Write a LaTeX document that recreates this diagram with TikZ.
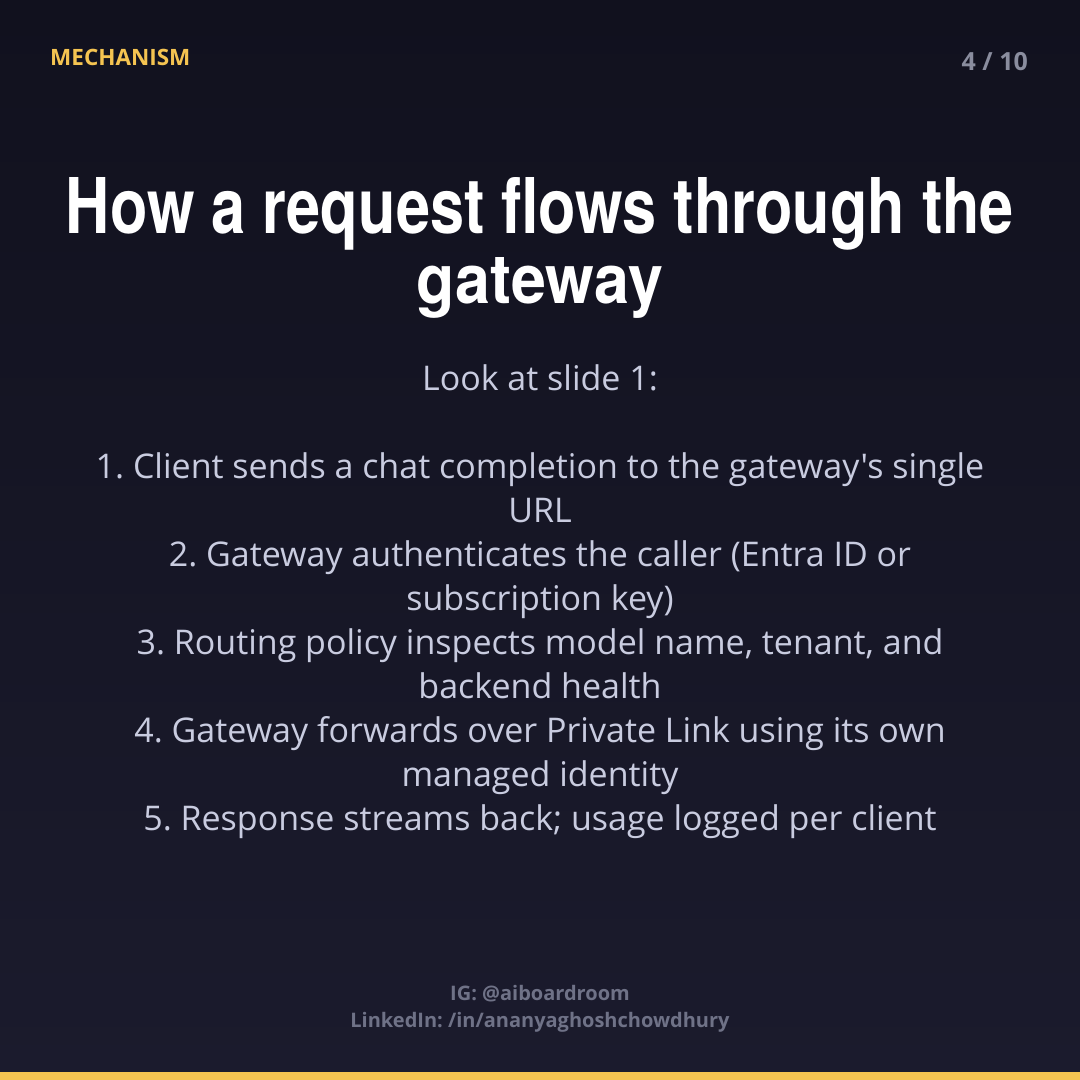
\documentclass[tikz,border=0pt]{standalone}
\usepackage{fontspec}
\setmainfont{Open Sans}[Ligatures=TeXOff]
\newfontfamily\titlefont{TeX Gyre Heros}
\frenchspacing
\definecolor{bgtop}{HTML}{11111E}
\definecolor{bgbot}{HTML}{1B1B2D}
\definecolor{accent}{HTML}{F5C451}
\definecolor{bodyc}{HTML}{C9CCE0}
\definecolor{mutedc}{HTML}{8A8D9E}
\definecolor{footc}{HTML}{6F7287}
\tikzset{
 body/.style={text=bodyc,font=\fontsize{34}{44}\selectfont,anchor=base},
 foot/.style={text=footc,font=\fontsize{20}{24}\selectfont\bfseries,anchor=base},
}
\begin{document}
\begin{tikzpicture}[x=1pt,y=-1pt]
\shade[top color=bgtop,bottom color=bgbot] (0,0) rectangle (1080,1080);
\fill[accent] (0,1072) rectangle (1080,1080);
\node[text=accent,font=\fontsize{22.5}{24}\selectfont\bfseries,anchor=base west,inner sep=0] (tag) at (50,65) {MECHANISM};
\node[text=mutedc,font=\fontsize{25}{28}\selectfont\bfseries,anchor=base east,inner sep=0] (pg) at (1028,70) {4 / 10};
\node[text=white,anchor=base,inner sep=0] (t1) at (540,233) {\resizebox{948pt}{56pt}{\titlefont\bfseries How a request flows through the}};
\node[text=white,anchor=base,inner sep=0] (t2) at (540,303) {\resizebox{246pt}{46pt}{\titlefont\bfseries gateway}};
\node[body] (l0) at (540,390) {Look at slide 1:};
\node[body] (l1) at (540,478) {1. Client sends a chat completion to the gateway's single};
\node[body] (l2) at (540,522) {URL};
\node[body] (l3) at (540,566) {2. Gateway authenticates the caller (Entra ID or};
\node[body] (l4) at (540,610) {subscription key)};
\node[body] (l5) at (540,654) {3. Routing policy inspects model name, tenant, and};
\node[body] (l6) at (540,698) {backend health};
\node[body] (l7) at (540,742) {4. Gateway forwards over Private Link using its own};
\node[body] (l8) at (540,786) {managed identity};
\node[body] (l9) at (540,830) {5. Response streams back; usage logged per client};
\node[foot] (f1) at (540,1000) {IG: @aiboardroom};
\node[foot] (f2) at (540,1027) {LinkedIn: /in/ananyaghoshchowdhury};
\end{tikzpicture}
\end{document}
